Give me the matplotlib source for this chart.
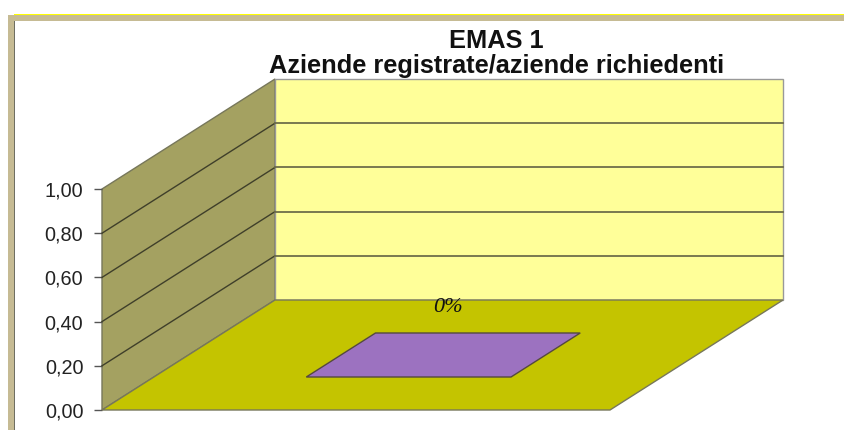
import matplotlib
matplotlib.use("Agg")
import matplotlib.pyplot as plt
from matplotlib.patches import Polygon, Rectangle

# ---- data ----
title_lines = ["EMAS 1", "Aziende registrate/aziende richiedenti"]
y_ticks = [0.0, 0.2, 0.4, 0.6, 0.8, 1.0]
y_tick_labels = ["0,00", "0,20", "0,40", "0,60", "0,80", "1,00"]
bar_value = [0.0]
bar_label = ["0%"]

W, H = 844, 430
fig = plt.figure(figsize=(W / 100, H / 100), dpi=100, facecolor="white")
plt.rcParams["font.family"] = ["Liberation Sans", "DejaVu Sans"]

# page decoration (figure pixels)
def px_rect(x0, y0, x1, y1, color):
    fig.add_artist(Rectangle((x0 / W, 1 - y1 / H), (x1 - x0) / W, (y1 - y0) / H,
                             transform=fig.transFigure, fc=color, ec="none"))
px_rect(14, 14, W, 16, "#FFFF00")
px_rect(8, 15, W, 21, "#C6BB94")
px_rect(8, 15, 14, H, "#C6BB94")
px_rect(14, 21, 15, H, "#6E6E62")

# axes: front plane of the 3D box
ax = fig.add_axes([102 / W, 1 - 410 / H, 508 / W, 221 / H])
ax.set_xlim(0, 1)
ax.set_ylim(0, 1)
ax.patch.set_visible(False)
for s in ax.spines.values():
    s.set_visible(False)
ax.set_xticks([])
ax.set_yticks(y_ticks)
ax.set_yticklabels(y_tick_labels, fontsize=14.3, color="#222222")
ax.tick_params(axis="y", length=6, width=1, color="#555555", pad=7.5)

DX, DY = 173 / 508, 110 / 221
def proj(c, d, v):
    return (c + d * DX, v + d * DY)

edge = "#77775A"
wall = dict(clip_on=False, lw=1)
# side wall
ax.add_patch(Polygon([proj(0, 0, 0), proj(0, 1, 0), proj(0, 1, 1), proj(0, 0, 1)],
                     fc="#A4A161", ec=edge, zorder=1, **wall))
# back wall
ax.add_patch(Polygon([proj(0, 1, 0), proj(1, 1, 0), proj(1, 1, 1), proj(0, 1, 1)],
                     fc="#FFFF99", ec="#999999", zorder=1, **wall))
# floor
ax.add_patch(Polygon([proj(0, 0, 0), proj(1, 0, 0), proj(1, 1, 0), proj(0, 1, 0)],
                     fc="#C4C400", ec="#77775A", zorder=2, **wall))
# gridlines
for v in y_ticks[1:-1]:
    ax.plot(*zip(proj(0, 0, v), proj(0, 1, v)), color="#3F3F2A", lw=1.0,
            clip_on=False, zorder=3)
    ax.plot(*zip(proj(0, 1, v), proj(1, 1, v)), color="#6E6E4A", lw=1.3,
            clip_on=False, zorder=3)

# bar of zero height
v = bar_value[0]
c0, c1, d0, d1 = 0.3, 0.703, 0.3, 0.7
ax.add_patch(Polygon([proj(c0, d0, v), proj(c1, d0, v), proj(c1, d1, v), proj(c0, d1, v)],
                     fc="#9C72C0", ec="#55493F", lw=1, clip_on=False, zorder=4))
ax.text(*proj(0.364, 0.93, v), bar_label[0], family="Liberation Serif", style="italic",
        fontsize=16, ha="center", va="center", color="#111111", zorder=5)

# title
fig.text(496 / W, 1 - 41 / H, title_lines[0], fontsize=18.3, fontweight="bold",
         ha="center", va="center", color="#111111")
fig.text(497 / W, 1 - 66 / H, title_lines[1], fontsize=18.3, fontweight="bold",
         ha="center", va="center", color="#111111")

fig.savefig("out.png", dpi=100)
